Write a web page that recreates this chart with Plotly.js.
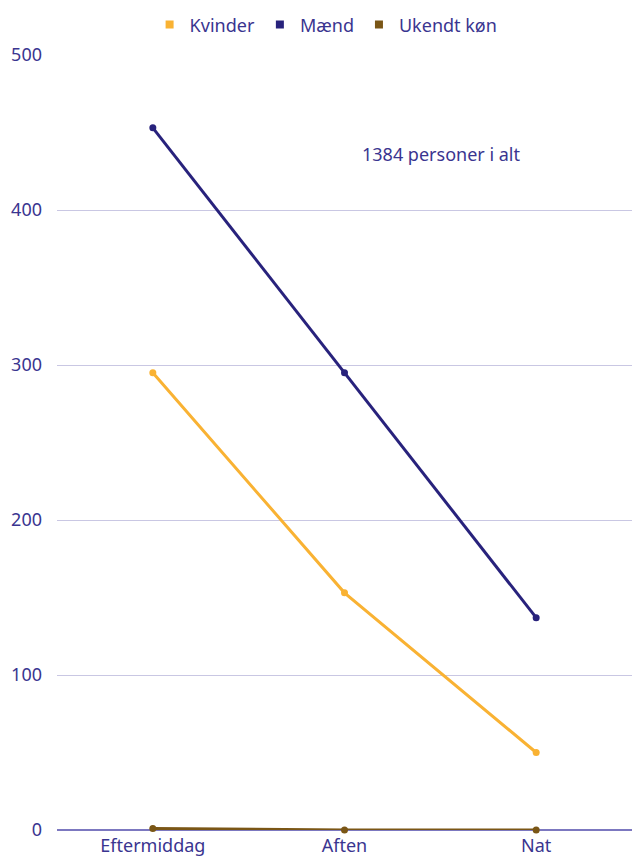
<!DOCTYPE html>
<html>
<head>
<meta charset="utf-8">
<script src="https://cdn.plot.ly/plotly-3.0.1.min.js"></script>
<style>html,body{margin:0;padding:0;background:#fff;}#chart{width:632px;height:856px;}</style>
</head>
<body>
<div id="chart"></div>
<script>
const categories = ["Eftermiddag", "Aften", "Nat"];
const kvinder = [295, 153, 50];
const maend = [453, 295, 137];
const ukendt = [1, 0, 0];
const seriesNames = ["Kvinder", "Mænd", "Ukendt køn"];
const seriesColors = ["#f9b233", "#28227c", "#7a5616"];
const annotationText = "1384 personer i alt";
const yTicks = [0, 100, 200, 300, 400, 500];

const seriesValues = [kvinder, maend, ukendt];
const traces = [];
seriesValues.forEach((vals, i) => {
  traces.push({
    type: "scatter", mode: "lines+markers", x: categories, y: vals,
    name: seriesNames[i], showlegend: false, cliponaxis: false,
    line: {color: seriesColors[i], width: 3},
    marker: {color: seriesColors[i], size: 7}
  });
});
seriesValues.forEach((vals, i) => {
  traces.push({
    type: "scatter", mode: "markers", x: [null], y: [null],
    name: seriesNames[i], showlegend: true,
    marker: {color: seriesColors[i], size: 8, symbol: "square"}
  });
});

const textColor = "#3a3590";
const fontFam = "'Noto Sans', 'Open Sans', sans-serif";
const layout = {
  width: 632, height: 856,
  margin: {l: 57, r: 0, t: 55, b: 26},
  paper_bgcolor: "#fff", plot_bgcolor: "#fff",
  font: {family: fontFam, size: 18, color: textColor},
  showlegend: true,
  legend: {orientation: "h", x: 0.468, xanchor: "center", y: 0.971, yref: "container", yanchor: "middle",
           font: {family: fontFam, size: 18, color: textColor}, itemwidth: 30, tracegroupgap: 0},
  xaxis: {type: "category", range: [-0.5, 2.5], showgrid: false, zeroline: false,
          showline: false, ticks: "", tickfont: {family: fontFam, size: 18, color: textColor}, ticklabelstandoff: 3},
  yaxis: {range: [0, 500], tickvals: yTicks, showgrid: true, gridcolor: "#c9c7e3", gridwidth: 1,
          zeroline: true, zerolinecolor: "#7c78c0", zerolinewidth: 2, showline: false,
          ticks: "", tickfont: {family: fontFam, size: 18, color: textColor}, ticklabelstandoff: 14},
  annotations: [{text: annotationText, xref: "paper", yref: "y", x: 0.668, y: 436,
                 showarrow: false, font: {family: fontFam, size: 18, color: textColor}, xanchor: "center", yanchor: "middle"}]
};
Plotly.newPlot("chart", traces, layout, {displayModeBar: false, staticPlot: true});
</script>
</body>
</html>
